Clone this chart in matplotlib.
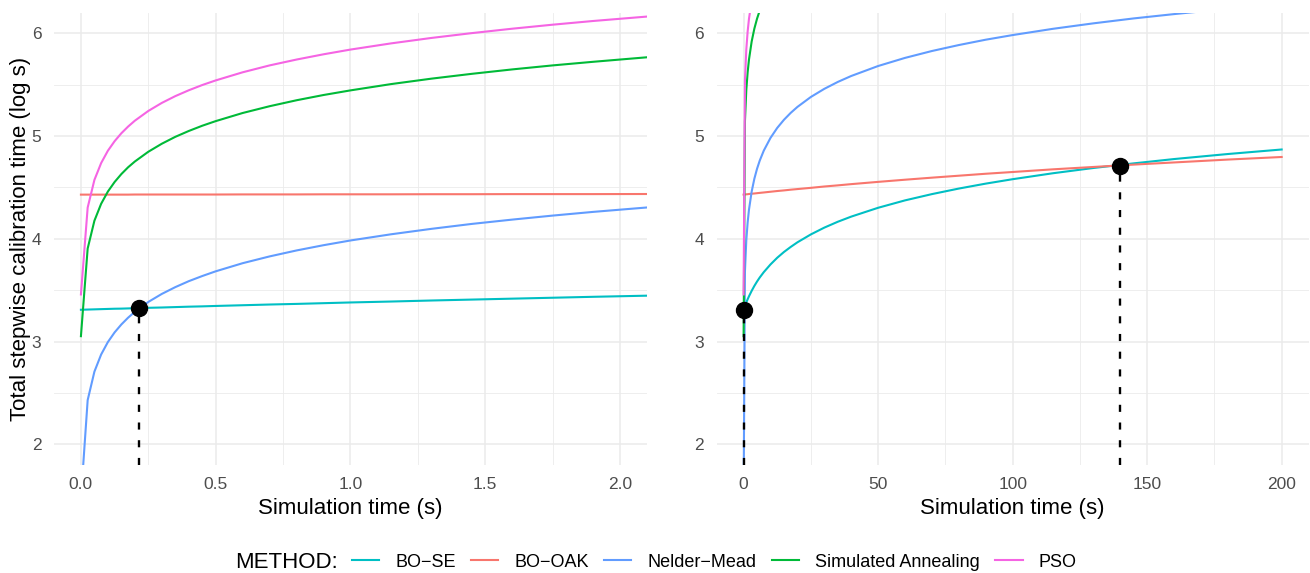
import matplotlib
matplotlib.use("Agg")
import matplotlib.pyplot as plt
from matplotlib.lines import Line2D

plt.rcParams['font.family'] = ['Liberation Sans', 'DejaVu Sans']

methods = ['BO\u2212SE', 'BO\u2212OAK', 'Nelder\u2212Mead', 'Simulated Annealing', 'PSO']
colors = ['#00BFC4', '#F8766D', '#619CFF', '#00BA38', '#F564E3']

# left panel: short simulation times (s), log10 of total calibration time
x_left = [0, 0.025, 0.05, 0.075, 0.1, 0.125, 0.15, 0.175, 0.2, 0.25, 0.3, 0.35, 0.4, 0.45,
          0.5, 0.6, 0.7, 0.8, 0.9, 1.0, 1.15, 1.3, 1.45, 1.6, 1.75, 1.9, 2.1]
left_bo_se = [3.310, 3.312, 3.314, 3.316, 3.318, 3.320, 3.321, 3.323, 3.325, 3.329, 3.332, 3.336, 3.340, 3.343,
              3.347, 3.354, 3.361, 3.367, 3.374, 3.381, 3.390, 3.400, 3.409, 3.418, 3.427, 3.436, 3.447]
left_bo_oak = [4.430, 4.430, 4.430, 4.430, 4.430, 4.430, 4.430, 4.430, 4.431, 4.431, 4.431, 4.431, 4.431, 4.431,
               4.431, 4.432, 4.432, 4.432, 4.433, 4.433, 4.433, 4.434, 4.434, 4.435, 4.435, 4.435, 4.436]
left_nelder_mead = [1.477, 2.431, 2.708, 2.875, 2.996, 3.090, 3.167, 3.233, 3.290, 3.386, 3.464, 3.530, 3.588, 3.638,
                    3.684, 3.763, 3.829, 3.887, 3.938, 3.984, 4.044, 4.097, 4.145, 4.187, 4.226, 4.262, 4.305]
left_sa = [3.053, 3.906, 4.176, 4.341, 4.460, 4.553, 4.630, 4.696, 4.752, 4.847, 4.925, 4.992, 5.049, 5.100,
           5.145, 5.224, 5.290, 5.348, 5.399, 5.444, 5.505, 5.558, 5.605, 5.648, 5.687, 5.722, 5.766]
left_pso = [3.459, 4.304, 4.573, 4.737, 4.857, 4.950, 5.027, 5.092, 5.149, 5.244, 5.322, 5.388, 5.445, 5.496,
            5.541, 5.620, 5.687, 5.744, 5.795, 5.841, 5.901, 5.954, 6.001, 6.044, 6.083, 6.119, 6.162]

# right panel: long simulation times (s)
x_right = [0, 0.5, 1, 1.5, 2, 3, 4, 5, 6, 7.5, 10, 12.5, 15, 17.5, 20, 25, 30, 35, 40, 50,
           60, 70, 80, 90, 100, 115, 130, 145, 160, 180, 200]
right_bo_se = [3.310, 3.347, 3.381, 3.412, 3.441, 3.494, 3.542, 3.585, 3.624, 3.676, 3.751, 3.816, 3.872, 3.921,
               3.966, 4.043, 4.109, 4.166, 4.216, 4.302, 4.374, 4.435, 4.489, 4.537, 4.580, 4.638, 4.689,
               4.734, 4.776, 4.825, 4.869]
right_bo_oak = [4.430, 4.431, 4.433, 4.434, 4.436, 4.439, 4.441, 4.444, 4.447, 4.451, 4.458, 4.465, 4.471, 4.478,
                4.484, 4.496, 4.509, 4.520, 4.532, 4.554, 4.575, 4.595, 4.614, 4.633, 4.650, 4.676, 4.699,
                4.722, 4.743, 4.771, 4.796]
right_nelder_mead = [1.477, 3.684, 3.984, 4.159, 4.284, 4.460, 4.585, 4.682, 4.761, 4.858, 4.982, 5.079, 5.158,
                     5.225, 5.283, 5.380, 5.459, 5.526, 5.584, 5.681, 5.760, 5.827, 5.885, 5.937, 5.982, 6.043,
                     6.096, 6.144, 6.186, 6.238, 6.283]
right_sa = [3.053, 5.145, 5.444, 5.620, 5.744, 5.920, 6.045, 6.142, 6.221, 6.318]
right_pso = [3.459, 5.541, 5.841, 6.016, 6.141, 6.317]

# break-even points
left_points_x = [0.216]
left_points_y = [3.323]
right_points_x = [0, 140]
right_points_y = [3.31, 4.713]

fig = plt.figure(figsize=(13.1, 5.73), dpi=100)
ax1 = fig.add_axes([0.0412, 0.1885, 0.4527, 0.7894])
ax2 = fig.add_axes([0.5471, 0.1885, 0.4518, 0.7894])

ylim = (1.8, 6.2)


def style_axis(ax, xlim, xmajor, xminor):
    ax.set_xlim(*xlim)
    ax.set_ylim(*ylim)
    ax.set_xticks(xmajor)
    ax.set_xticks(xminor, minor=True)
    ax.set_yticks([2, 3, 4, 5, 6])
    ax.set_yticks([2.5, 3.5, 4.5, 5.5], minor=True)
    ax.grid(which='major', color='#EBEBEB', lw=1.1, zorder=0)
    ax.grid(which='minor', color='#EBEBEB', lw=0.6, zorder=0)
    for s in ax.spines.values():
        s.set_visible(False)
    ax.tick_params(which='both', length=0)
    ax.tick_params(axis='x', pad=9, labelsize=12.5, labelcolor='#4D4D4D')
    ax.tick_params(axis='y', pad=9, labelsize=12.5, labelcolor='#4D4D4D')
    ax.set_axisbelow(True)
    ax.set_xlabel('Simulation time (s)', fontsize=16, labelpad=4)


left_series = [left_bo_se, left_bo_oak, left_nelder_mead, left_sa, left_pso]
for ys, c in zip(left_series, colors):
    ax1.plot(x_left[:len(ys)], ys, color=c, lw=1.5, zorder=2)
for px, py in zip(left_points_x, left_points_y):
    ax1.plot([px, px], [ylim[0], py], color='black', lw=1.7, dashes=(3, 4.5), zorder=3)
ax1.plot(left_points_x, left_points_y, 'o', color='black', ms=11.5, zorder=4)
style_axis(ax1, (-0.1, 2.1), [0.0, 0.5, 1.0, 1.5, 2.0], [0.25, 0.75, 1.25, 1.75])
ax1.set_xticklabels(['0.0', '0.5', '1.0', '1.5', '2.0'])

right_series = [right_bo_se, right_bo_oak, right_nelder_mead, right_sa, right_pso]
for ys, c in zip(right_series, colors):
    ax2.plot(x_right[:len(ys)], ys, color=c, lw=1.5, zorder=2)
for px, py in zip(right_points_x, right_points_y):
    ax2.plot([px, px], [ylim[0], py], color='black', lw=1.7, dashes=(3, 4.5), zorder=3)
ax2.plot(right_points_x, right_points_y, 'o', color='black', ms=11.5, zorder=4)
style_axis(ax2, (-10, 210), [0, 50, 100, 150, 200], [25, 75, 125, 175])

fig.text(0.0153, 0.583, 'Total stepwise calibration time (log s)', rotation=90,
         ha='center', va='center', fontsize=16)

handles = [Line2D([], [], color=c, lw=1.5) for c in colors]
fig.text(235 / 1310, 0.019, 'METHOD:', ha='left', va='center', fontsize=16)
fig.legend(handles, methods, loc='center left', bbox_to_anchor=(352 / 1310, 0.019),
           ncol=5, frameon=False, fontsize=13, handlelength=1.5, handletextpad=0.9,
           columnspacing=0.85, borderpad=0, borderaxespad=0)

fig.savefig('out.png', dpi=100)
